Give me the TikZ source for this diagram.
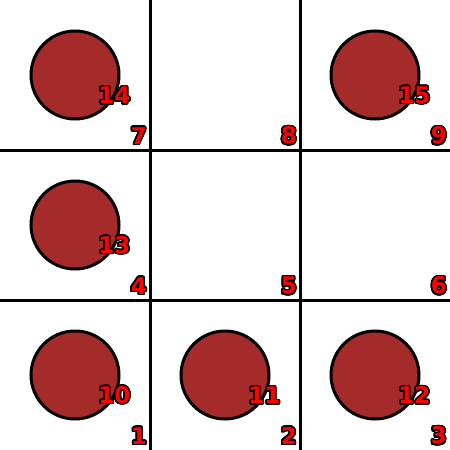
\documentclass[tikz,border=0pt]{standalone}
\usepackage{fontspec}
\setmainfont{DejaVu Sans}
\usepackage{contour}
\contourlength{1.5pt}
\contournumber{24}
\definecolor{discred}{RGB}{165,42,42}
\tikzset{
  gridline/.style={line width=3pt},
  disc/.style={circle, draw=black, line width=3pt, fill=discred, minimum size=88pt, inner sep=0pt},
  lbl/.style={anchor=south east, inner sep=0pt, font=\bfseries\fontsize{23}{23}\selectfont}
}
\newcommand{\outl}[1]{\contour{black}{\textcolor{red}{#1}}}
\begin{document}
\begin{tikzpicture}[x=1pt,y=-1pt]
\useasboundingbox (0,0) rectangle (450,450);
% grid
\coordinate (v1t) at (150,0); \coordinate (v1b) at (150,450);
\coordinate (v2t) at (300,0); \coordinate (v2b) at (300,450);
\coordinate (h1l) at (0,150); \coordinate (h1r) at (450,150);
\coordinate (h2l) at (0,300); \coordinate (h2r) at (450,300);
\draw[gridline] (v1t) -- (v1b);
\draw[gridline] (v2t) -- (v2b);
\draw[gridline] (h1l) -- (h1r);
\draw[gridline] (h2l) -- (h2r);
% discs
\node[disc] (d14) at (75,75) {};
\node[disc] (d15) at (375,75) {};
\node[disc] (d13) at (75,225) {};
\node[disc] (d10) at (75,375) {};
\node[disc] (d11) at (225,375) {};
\node[disc] (d12) at (375,375) {};
% disc labels
\node[lbl] (l14) at (130.5,105.5) {\outl{14}};
\node[lbl] (l15) at (430.5,105.5) {\outl{15}};
\node[lbl] (l13) at (130.5,255.5) {\outl{13}};
\node[lbl] (l10) at (130.5,405.5) {\outl{10}};
\node[lbl] (l11) at (280.5,405.5) {\outl{11}};
\node[lbl] (l12) at (430.5,405.5) {\outl{12}};
% cell labels
\node[lbl] (c7) at (147,146) {\outl{7}};
\node[lbl] (c8) at (297,146) {\outl{8}};
\node[lbl] (c9) at (447,146) {\outl{9}};
\node[lbl] (c4) at (147,296) {\outl{4}};
\node[lbl] (c5) at (297,296) {\outl{5}};
\node[lbl] (c6) at (447,296) {\outl{6}};
\node[lbl] (c1) at (147,446) {\outl{1}};
\node[lbl] (c2) at (297,446) {\outl{2}};
\node[lbl] (c3) at (447,446) {\outl{3}};
\end{tikzpicture}
\end{document}
